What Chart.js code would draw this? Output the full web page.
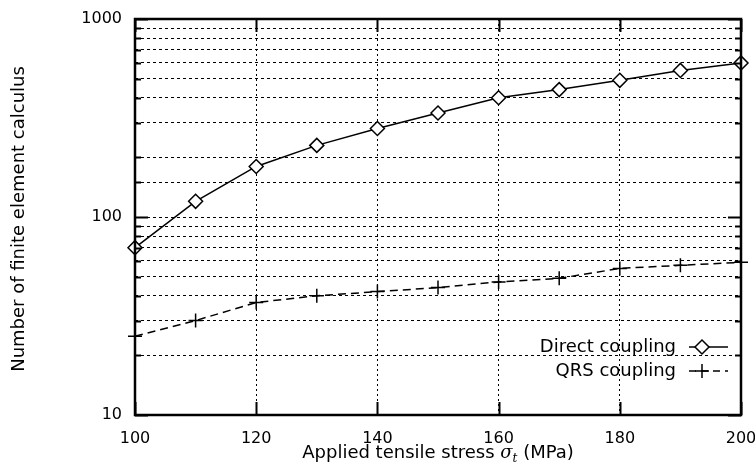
<!DOCTYPE html>
<html>
<head>
<meta charset="utf-8">
<script src="https://cdn.jsdelivr.net/npm/chart.js@4/dist/chart.umd.min.js"></script>
<style>
  html, body { margin: 0; padding: 0; background: #fff; }
</style>
</head>
<body>
<canvas id="chart" width="755" height="469"></canvas>
<script>
// data
const stress = [100, 110, 120, 130, 140, 150, 160, 170, 180, 190, 200];
const directCoupling = [70, 120, 180, 230, 280, 335, 400, 440, 490, 550, 600];
const qrsCoupling = [25, 30, 37, 40, 42, 44, 47, 49, 55, 57, 59];
const yLabelValues = [10, 100, 1000];
const seriesNames = ["Direct coupling", "QRS coupling"];

const FONT = "'DejaVu Sans', sans-serif";

// frame, inward ticks, axis titles and legend (gnuplot look)
const framePlugin = {
  id: "frame",
  afterDraw(chart) {
    const ctx = chart.ctx;
    const a = chart.chartArea;
    const xs = chart.scales.x;
    const ys = chart.scales.y;
    ctx.save();
    ctx.strokeStyle = "#000";

    // ticks
    ctx.lineWidth = 2;
    ctx.beginPath();
    ys.ticks.forEach(t => {
      const y = Math.round(ys.getPixelForValue(t.value)) + 0.5;
      const len = yLabelValues.includes(t.value) ? 13 : 6;
      ctx.moveTo(a.left, y); ctx.lineTo(a.left + len, y);
      ctx.moveTo(a.right, y); ctx.lineTo(a.right - len, y);
    });
    xs.ticks.forEach(t => {
      const x = Math.round(xs.getPixelForValue(t.value)) + 0.5;
      ctx.moveTo(x, a.bottom); ctx.lineTo(x, a.bottom - 13);
      ctx.moveTo(x, a.top); ctx.lineTo(x, a.top + 13);
    });
    ctx.stroke();

    // frame
    ctx.lineWidth = 2.5;
    ctx.strokeRect(a.left, a.top, a.right - a.left, a.bottom - a.top);

    // x title with italic sigma and subscript t
    ctx.fillStyle = "#000";
    ctx.textBaseline = "alphabetic";
    const parts = [
      ["Applied tensile stress ", "18px " + FONT, 0],
      ["\u03C3", "italic 18px 'DejaVu Serif', serif", 0],
      ["t", "italic 12px 'DejaVu Serif', serif", 4],
      [" (MPa)", "18px " + FONT, 0]
    ];
    let total = 0;
    parts.forEach(p => { ctx.font = p[1]; total += ctx.measureText(p[0]).width; });
    let x = (a.left + a.right) / 2 - total / 2;
    const baseY = 458;
    parts.forEach(p => {
      ctx.font = p[1];
      ctx.textAlign = "left";
      ctx.fillText(p[0], x, baseY + p[2]);
      x += ctx.measureText(p[0]).width;
    });

    // y title
    ctx.save();
    ctx.translate(19, (a.top + a.bottom) / 2 + 2);
    ctx.rotate(-Math.PI / 2);
    ctx.font = "18px " + FONT;
    ctx.textAlign = "center";
    ctx.textBaseline = "middle";
    ctx.fillText("Number of finite element calculus", 0, 0);
    ctx.restore();

    // legend, bottom right inside the frame
    const rows = [
      { label: seriesNames[0], y: 347, dash: [], style: "rectRot" },
      { label: seriesNames[1], y: 371, dash: [7, 5], style: "cross" }
    ];
    rows.forEach(r => {
      ctx.font = "18px " + FONT;
      ctx.textAlign = "right";
      ctx.textBaseline = "middle";
      ctx.fillText(r.label, 676, r.y);
      ctx.lineWidth = 1.5;
      ctx.setLineDash(r.dash);
      ctx.beginPath();
      ctx.moveTo(689, r.y); ctx.lineTo(728, r.y);
      ctx.stroke();
      ctx.setLineDash([]);
      ctx.fillStyle = "#fff";
      Chart.helpers.drawPoint(ctx, { pointStyle: r.style, radius: 7, borderWidth: 1.5 }, 702, r.y);
      ctx.fillStyle = "#000";
    });
    ctx.restore();
  }
};

new Chart(document.getElementById("chart"), {
  type: "line",
  data: {
    labels: stress,
    datasets: [
      {
        label: seriesNames[0],
        data: stress.map((s, i) => ({ x: s, y: directCoupling[i] })),
        borderColor: "#000",
        borderWidth: 1.5,
        pointStyle: "rectRot",
        pointRadius: 7,
        pointBorderWidth: 1.5,
        pointBackgroundColor: "#fff",
        pointBorderColor: "#000",
        tension: 0
      },
      {
        label: seriesNames[1],
        data: stress.map((s, i) => ({ x: s, y: qrsCoupling[i] })),
        borderColor: "#000",
        borderWidth: 1.5,
        borderDash: [8, 5],
        pointStyle: "cross",
        pointRadius: 7,
        pointBorderWidth: 1.5,
        pointBorderColor: "#000",
        tension: 0
      }
    ]
  },
  options: {
    responsive: false,
    devicePixelRatio: 1,
    animation: false,
    clip: false,
    layout: { padding: { top: 19, right: 14, left: 0, bottom: 0 } },
    plugins: { legend: { display: false }, tooltip: { enabled: false } },
    scales: {
      x: {
        type: "linear",
        min: 100,
        max: 200,
        afterFit(s) { s.height = 54; s.paddingLeft = 0; s.paddingRight = 0; },
        ticks: {
          stepSize: 20,
          padding: 14,
          color: "#000",
          font: { family: FONT, size: 16 },
          maxRotation: 0
        },
        grid: { color: "#000", lineWidth: 1, drawTicks: false },
        border: { display: false, dash: [2, 3] }
      },
      y: {
        type: "logarithmic",
        min: 10,
        max: 1000,
        afterFit(s) { s.width = 135; s.paddingTop = 0; s.paddingBottom = 0; },
        ticks: {
          autoSkip: false,
          padding: 13,
          color: "#000",
          font: { family: FONT, size: 16 },
          callback: v => (yLabelValues.includes(v) ? String(v) : "")
        },
        grid: { color: "#000", lineWidth: 1, drawTicks: false },
        border: { display: false, dash: [3, 3] }
      }
    }
  },
  plugins: [framePlugin]
});
</script>
</body>
</html>
